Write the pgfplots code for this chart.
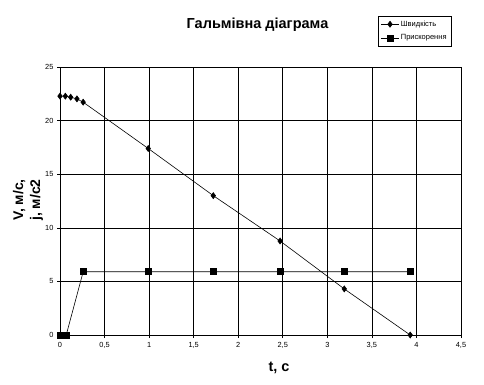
\documentclass[border=0pt]{standalone}
\usepackage{fontspec}
\setmainfont{Liberation Sans}
\usepackage{pgfplots}
\pgfplotsset{compat=1.18}
\begin{document}
\begin{tikzpicture}
\path (0pt,0pt) rectangle (484pt,384pt);
\begin{axis}[at={(60pt,49pt)}, anchor=south west, scale only axis,
  width=401pt, height=268pt,
  xmin=0, xmax=4.5, ymin=0, ymax=25,
  xtick={0,0.5,1,1.5,2,2.5,3,3.5,4,4.5},
  ytick={0,5,10,15,20,25},
  grid=major, grid style={black, line width=0.6pt},
  axis line style={black, line width=0.6pt},
  tick style={black, line width=0.6pt},
  tick align=outside, major tick length=3pt,
  xtick pos=bottom, ytick pos=left,
  /pgf/number format/use comma,
  /pgf/number format/assume math mode=true,
  ticklabel style={font=\fontsize{7.4}{8}\selectfont},
  xticklabel style={yshift=-1pt},
  legend style={at={(0.793,1.19)}, anchor=north west, draw=black,
    font=\fontsize{7.5}{8.5}\selectfont, inner xsep=3pt, inner ysep=2.5pt, row sep=3pt,
    cells={anchor=west}},
  legend image post style={line width=0.6pt},
  clip=false,
]
\addplot[black, line width=0.6pt, mark=diamond*, mark size=3pt, mark options={fill=black}]
  coordinates {(0,22.28) (0.06,22.28) (0.12,22.18) (0.19,22.03) (0.26,21.72)
  (0.99,17.4) (1.72,13.0) (2.47,8.77) (3.19,4.3) (3.93,0)};
\addlegendentry{Швидкість}
\addplot[black, line width=0.6pt, mark=square*, mark size=3pt, mark options={fill=black}]
  coordinates {(0,0) (0.07,0) (0.26,5.9) (0.99,5.9) (1.72,5.9) (2.47,5.9) (3.19,5.9) (3.93,5.9)};
\addlegendentry{Прискорення}
\end{axis}
\node[font=\bfseries\fontsize{14.5}{17}\selectfont] at (257.5pt,359pt) {Гальмівна діаграма};
\node[font=\bfseries\fontsize{14}{17}\selectfont, rotate=90, align=center] at (28pt,184pt) {V, м/с,\\ j, м/с2};
\node[font=\bfseries\fontsize{14.5}{17}\selectfont] at (279pt,16pt) {t, c};
\end{tikzpicture}
\end{document}
